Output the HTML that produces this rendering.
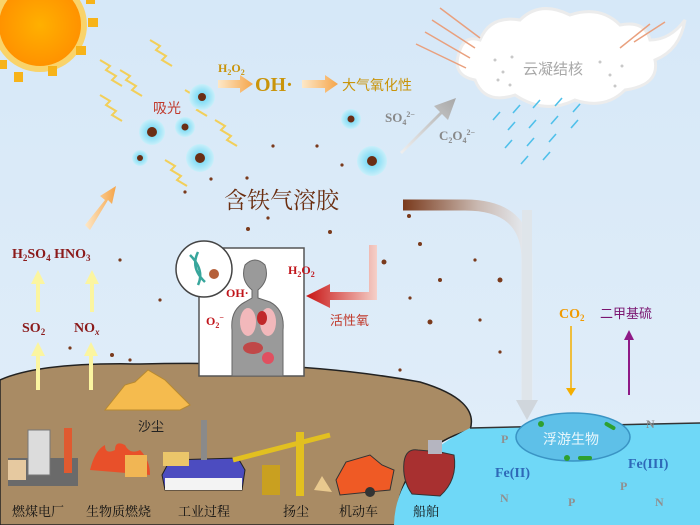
<!DOCTYPE html>
<html><head><meta charset="utf-8"><style>
body{margin:0;width:700px;height:525px;overflow:hidden;background:#dcebf9}
svg{display:block}
text{font-family:"Liberation Serif","Noto Serif CJK SC",serif}
.cn{font-family:"Liberation Sans","Noto Sans CJK SC",sans-serif}
.sf{font-family:"Liberation Serif","Noto Serif CJK SC",serif}
</style></head><body>
<svg width="700" height="525" viewBox="0 0 700 525" xmlns="http://www.w3.org/2000/svg">
<defs>
<linearGradient id="bg" x1="0" y1="0" x2="0" y2="1"><stop offset="0" stop-color="#d6e8f8"/><stop offset="1" stop-color="#e2eef9"/></linearGradient>
<linearGradient id="brn" x1="0" x2="1"><stop offset="0" stop-color="#7a3a1c"/><stop offset="0.6" stop-color="#c9b8b0"/><stop offset="1" stop-color="#e6ecf2"/></linearGradient>
<linearGradient id="red" x1="1" x2="0"><stop offset="0" stop-color="#f5d0c8"/><stop offset="1" stop-color="#c81414"/></linearGradient>
<linearGradient id="orng" x1="0" x2="1"><stop offset="0" stop-color="#fde8c8"/><stop offset="1" stop-color="#f5a54a"/></linearGradient>
<linearGradient id="gry" x1="0" y1="1" x2="1" y2="0"><stop offset="0" stop-color="#f0f0f0"/><stop offset="1" stop-color="#a8a8a8"/></linearGradient>
<radialGradient id="sun"><stop offset="0" stop-color="#ffb000"/><stop offset="1" stop-color="#ff9000"/></radialGradient>
<radialGradient id="dr"><stop offset="0.3" stop-color="#7fdcf5"/><stop offset="1" stop-color="#c9effa"/></radialGradient>
</defs>
<rect width="700" height="525" fill="url(#bg)"/>
<circle cx="40" cy="25" r="44" fill="url(#sun)" stroke="#f9d36a" stroke-width="6"/>
<g fill="#f7b319"><rect x="48" y="66" width="9" height="10"/><rect x="14" y="72" width="9" height="10"/><rect x="76" y="46" width="10" height="9"/><rect x="88" y="18" width="10" height="9"/><rect x="86" y="-5" width="9" height="9"/><rect x="-2" y="60" width="9" height="9"/></g>
<g stroke="#f2cf5a" stroke-width="2" fill="none">
<path d="M100 60 l10 6 -4 4 10 6 -4 4 10 6"/><path d="M150 40 l10 6 -4 4 10 6 -4 4 10 6"/><path d="M100 95 l10 6 -4 4 10 6 -4 4 10 6"/><path d="M165 160 l10 6 -4 4 10 6 -4 4 10 6"/><path d="M215 120 l10 6 -4 4 10 6 -4 4 10 6"/><path d="M185 90 l10 6 -4 4 10 6 -4 4 10 6"/><path d="M120 70 l10 6 -4 4 10 6 -4 4 10 6"/>
</g>
<g>
<circle cx="202" cy="97" r="13" fill="url(#dr)"/><circle cx="202" cy="97" r="4" fill="#6a2e14"/>
<circle cx="185" cy="127" r="10" fill="url(#dr)"/><circle cx="185" cy="127" r="3.5" fill="#6a2e14"/>
<circle cx="152" cy="132" r="13" fill="url(#dr)"/><circle cx="152" cy="132" r="5" fill="#6a2e14"/>
<circle cx="140" cy="158" r="8" fill="url(#dr)"/><circle cx="140" cy="158" r="3" fill="#6a2e14"/>
<circle cx="200" cy="158" r="14" fill="url(#dr)"/><circle cx="200" cy="158" r="5" fill="#6a2e14"/>
<circle cx="351" cy="119" r="10" fill="url(#dr)"/><circle cx="351" cy="119" r="3.5" fill="#6a2e14"/>
<circle cx="372" cy="161" r="15" fill="url(#dr)"/><circle cx="372" cy="161" r="5" fill="#6a2e14"/>
</g>
<g fill="#7a3a1c">
<circle cx="273" cy="146" r="1.6"/><circle cx="317" cy="146" r="1.6"/><circle cx="342" cy="165" r="1.6"/><circle cx="211" cy="179" r="1.6"/><circle cx="247" cy="178" r="1.6"/><circle cx="185" cy="192" r="1.6"/><circle cx="409" cy="216" r="2"/><circle cx="268" cy="218" r="1.6"/><circle cx="330" cy="232" r="2"/><circle cx="248" cy="229" r="2"/><circle cx="420" cy="244" r="2"/><circle cx="384" cy="262" r="2.5"/><circle cx="440" cy="280" r="2"/><circle cx="500" cy="280" r="2.5"/><circle cx="475" cy="260" r="1.6"/><circle cx="430" cy="322" r="2.5"/><circle cx="410" cy="298" r="1.6"/><circle cx="480" cy="320" r="1.6"/><circle cx="400" cy="370" r="1.6"/><circle cx="330" cy="380" r="2"/><circle cx="355" cy="395" r="1.6"/><circle cx="360" cy="420" r="1.6"/><circle cx="380" cy="432" r="1.6"/><circle cx="260" cy="412" r="1.6"/><circle cx="283" cy="420" r="1.6"/><circle cx="70" cy="348" r="1.6"/><circle cx="112" cy="355" r="2"/><circle cx="130" cy="360" r="1.6"/><circle cx="160" cy="300" r="1.6"/><circle cx="120" cy="260" r="1.6"/><circle cx="40" cy="415" r="1.6"/><circle cx="70" cy="415" r="1.6"/><circle cx="108" cy="420" r="2"/><circle cx="120" cy="418" r="1.6"/><circle cx="500" cy="352" r="1.6"/></g>
<path d="M480 40 q10-25 40-20 q20-20 50-5 q30-10 50 10 q25 -5 30 15 q20 0 35-20 q-5 30-30 40 q5 25-30 30 q-20 20-50 10 q-30 15-60 -5 q-30 10-40-15 q-25-5-15-30 q5-15 20-10z" fill="#ffffff" stroke="#ececec" stroke-width="3"/>
<text x="523" y="74" class="cn" font-size="15" fill="#a8a8a8">云凝结核</text>
<g fill="#c8c8c8"><circle cx="495" cy="60" r="1.5"/><circle cx="503" cy="72" r="1.5"/><circle cx="512" cy="57" r="1.5"/><circle cx="510" cy="85" r="1.5"/><circle cx="600" cy="62" r="1.5"/><circle cx="610" cy="75" r="1.5"/><circle cx="622" cy="66" r="1.5"/><circle cx="615" cy="86" r="1.5"/><circle cx="498" cy="80" r="1.5"/></g>
<g stroke="#e9a07e" stroke-width="1.5"><line x1="416" y1="44" x2="466" y2="68"/><line x1="425" y1="32" x2="470" y2="58"/><line x1="432" y1="20" x2="475" y2="48"/><line x1="440" y1="8" x2="480" y2="38"/><line x1="620" y1="48" x2="650" y2="24"/><line x1="634" y1="42" x2="665" y2="22"/></g>
<g stroke="#4fc0ea" stroke-width="1.6"><line x1="520" y1="105" x2="513" y2="113"/><line x1="540" y1="100" x2="533" y2="108"/><line x1="562" y1="98" x2="555" y2="106"/><line x1="580" y1="104" x2="573" y2="112"/><line x1="515" y1="122" x2="508" y2="130"/><line x1="536" y1="120" x2="529" y2="128"/><line x1="558" y1="116" x2="551" y2="124"/><line x1="578" y1="120" x2="571" y2="128"/><line x1="512" y1="140" x2="505" y2="148"/><line x1="534" y1="138" x2="527" y2="146"/><line x1="556" y1="134" x2="549" y2="142"/><line x1="528" y1="156" x2="521" y2="164"/><line x1="550" y1="152" x2="543" y2="160"/><line x1="500" y1="112" x2="493" y2="120"/></g>
<path d="M0 380 Q40 362 140 364 Q300 360 420 382 Q480 400 470 430 Q400 450 395 525 L0 525Z" fill="#a98b64" stroke="#222" stroke-width="1.5"/>
<path d="M470 428 L700 423 L700 525 L394 525 Q395 465 470 428Z" fill="#6fd8f7"/>
<path d="M470 428 L700 423" stroke="#333" stroke-width="1.5"/>
<path d="M403 205 L465 205 Q527 205 527 260 L527 400" stroke="url(#brn)" stroke-width="11" fill="none"/>
<path d="M522 210 L532 210 L532 400 L522 400Z" fill="#dfe5ea"/>
<path d="M516 400 L538 400 L527 420Z" fill="#d0d6dc"/>
<path d="M400 152 L440 112 L434 106 L456 98 L448 120 L442 114 L402 154Z" fill="url(#gry)"/>
<path d="M218 80 L240 80 L240 75 L253 84 L240 93 L240 88 L218 88Z" fill="url(#orng)"/>
<path d="M302 80 L325 80 L325 75 L338 84 L325 93 L325 88 L302 88Z" fill="url(#orng)"/>
<path d="M85 225 L105 200 L100 196 L116 186 L112 204 L108 200 L90 230Z" fill="url(#orng)"/>
<text x="218" y="72" font-size="12" font-weight="bold" fill="#c9940a">H<tspan font-size="8" dy="3">2</tspan><tspan dy="-3">O</tspan><tspan font-size="8" dy="3">2</tspan></text>
<text x="255" y="91" font-size="20" font-weight="bold" fill="#c9940a">OH·</text>
<text x="342" y="90" class="cn" font-size="14" fill="#c9940a">大气氧化性</text>
<text x="385" y="122" font-size="13" font-weight="bold" fill="#888">SO<tspan font-size="8" dy="3">4</tspan><tspan font-size="8" dy="-8">2−</tspan></text>
<text x="439" y="140" font-size="13" font-weight="bold" fill="#888">C<tspan font-size="8" dy="3">2</tspan><tspan dy="-3">O</tspan><tspan font-size="8" dy="3">4</tspan><tspan font-size="8" dy="-8">2−</tspan></text>
<text x="153" y="113" class="cn" font-size="14" fill="#c0392b">吸光</text>
<text x="224" y="208" class="sf" font-size="23" fill="#6b2e10">含铁气溶胶</text>
<text x="12" y="258" font-size="14" font-weight="bold" fill="#8b1a1a">H<tspan font-size="9" dy="3">2</tspan><tspan dy="-3">SO</tspan><tspan font-size="9" dy="3">4</tspan><tspan dy="-3"> HNO</tspan><tspan font-size="9" dy="3">3</tspan></text>
<text x="22" y="332" font-size="14" font-weight="bold" fill="#8b1a1a">SO<tspan font-size="9" dy="3">2</tspan></text>
<text x="74" y="332" font-size="14" font-weight="bold" fill="#8b1a1a">NO<tspan font-size="9" dy="3" font-style="italic">x</tspan></text>
<g fill="#fbf5a0"><path d="M36 312 L36 284 L31 284 L38 270 L45 284 L40 284 L40 312Z"/><path d="M90 312 L90 284 L85 284 L92 270 L99 284 L94 284 L94 312Z"/><path d="M36 390 L36 356 L31 356 L38 342 L45 356 L40 356 L40 390Z"/><path d="M89 390 L89 356 L84 356 L91 342 L98 356 L93 356 L93 390Z"/></g>
<rect x="199" y="248" width="105" height="128" fill="#fff" stroke="#555" stroke-width="1.5"/>
<path d="M232 376 L232 330 Q230 310 245 302 L252 298 L252 290 Q240 280 245 265 Q255 255 265 265 Q270 280 258 290 L258 298 L270 302 Q285 310 283 330 L283 376Z" fill="#9a9a9a" stroke="#666"/>
<ellipse cx="248" cy="322" rx="8" ry="14" fill="#f2b8bb"/><ellipse cx="268" cy="322" rx="8" ry="14" fill="#f2b8bb"/>
<ellipse cx="262" cy="318" rx="5" ry="7" fill="#c0282a"/>
<ellipse cx="253" cy="348" rx="10" ry="6" fill="#c04848"/><ellipse cx="268" cy="358" rx="6" ry="6" fill="#e05060"/>
<circle cx="204" cy="269" r="28" fill="#fff" stroke="#444" stroke-width="1.5"/>
<path d="M190 255 Q205 270 198 285 M198 252 Q190 268 205 282" stroke="#38a69c" stroke-width="2.5" fill="none"/>
<circle cx="214" cy="274" r="5" fill="#b5603a"/>
<text x="288" y="274" font-size="12" font-weight="bold" fill="#c0141a">H<tspan font-size="8" dy="3">2</tspan><tspan dy="-3">O</tspan><tspan font-size="8" dy="3">2</tspan></text>
<text x="226" y="297" font-size="12" font-weight="bold" fill="#c0141a">OH·</text>
<text x="206" y="325" font-size="12" font-weight="bold" fill="#c0141a">O<tspan font-size="8" dy="3">2</tspan><tspan font-size="8" dy="-8">−</tspan></text>
<path d="M377 245 L377 300 L330 300 L330 308 L306 296 L330 284 L330 292 L369 292 L369 245Z" fill="url(#red)"/>
<text x="330" y="325" class="cn" font-size="13" fill="#c0392b">活性氧</text>
<text x="559" y="318" font-size="14" font-weight="bold" fill="#f09a00">CO<tspan font-size="9" dy="3">2</tspan></text>
<text x="600" y="318" class="cn" font-size="13" fill="#7a1570">二甲基硫</text>
<line x1="571" y1="326" x2="571" y2="390" stroke="#f4ae00" stroke-width="1.5"/><path d="M566 388 L576 388 L571 396Z" fill="#f4ae00"/>
<line x1="629" y1="338" x2="629" y2="395" stroke="#8e1a86" stroke-width="2"/><path d="M624 340 L634 340 L629 330Z" fill="#8e1a86"/>
<ellipse cx="573" cy="437" rx="57" ry="24" fill="#5ec0e8" stroke="#3a94c4" stroke-width="1.5"/>
<text x="543" y="444" class="cn" font-size="14" fill="#e8f6fb">浮游生物</text>
<g fill="#2ea030"><circle cx="541" cy="424" r="3"/><circle cx="567" cy="458" r="3"/><rect x="578" y="456" width="14" height="4" rx="2"/><rect x="604" y="424" width="12" height="4" rx="2" transform="rotate(30 610 426)"/></g>
<g font-weight="bold" font-size="12" fill="#909090"><text x="501" y="443">P</text><text x="646" y="428" fill="#8a8a8a">N</text><text x="620" y="490">P</text><text x="500" y="502">N</text><text x="568" y="506">P</text><text x="655" y="506">N</text></g>
<text x="495" y="477" font-size="14" font-weight="bold" fill="#2e69b8">Fe(II)</text>
<text x="628" y="468" font-size="14" font-weight="bold" fill="#2e69b8">Fe(III)</text>
<path d="M105 410 L125 385 L135 382 L148 370 L165 380 L190 405 L180 410Z" fill="#f5bb4e" stroke="#b88a30"/>
<text x="138" y="431" class="cn" font-size="13" fill="#222">沙尘</text>
<rect x="8" y="458" width="70" height="28" fill="#6a6a6a"/><rect x="28" y="430" width="22" height="45" fill="#dcdcdc" stroke="#777"/>
<rect x="64" y="428" width="8" height="45" fill="#e05a30"/><rect x="8" y="460" width="18" height="20" fill="#e6c9a0"/>
<path d="M90 470 Q95 450 105 445 Q105 455 115 450 Q115 440 125 445 Q130 455 140 450 Q150 460 150 475Z" fill="#e8502a"/>
<rect x="125" y="455" width="22" height="22" fill="#f1b654"/>
<path d="M162 475 L170 460 L238 458 L245 470 L242 490 L165 490Z" fill="#4c4cc0" stroke="#222"/>
<rect x="165" y="478" width="77" height="12" fill="#f3f3f3"/>
<rect x="201" y="420" width="6" height="40" fill="#8a8a8a"/><rect x="163" y="452" width="26" height="14" fill="#ebc66a"/>
<line x1="233" y1="460" x2="330" y2="435" stroke="#e2c020" stroke-width="5"/><rect x="296" y="432" width="8" height="64" fill="#e2c020"/>
<rect x="262" y="465" width="18" height="30" fill="#c9a020"/>
<path d="M314 490 L322 476 L332 492Z" fill="#e9c98e"/>
<path d="M336 480 L346 462 L370 455 L382 465 L394 470 L390 490 L340 495Z" fill="#ef5a25" stroke="#333"/>
<circle cx="370" cy="492" r="5" fill="#333"/>
<path d="M404 462 Q406 448 418 450 L440 452 L454 455 Q458 480 440 496 L412 494 Q402 480 404 462Z" fill="#a83030" stroke="#333"/>
<rect x="428" y="440" width="14" height="14" fill="#b5b5c0"/>
<g class="cn" font-size="13" fill="#111">
<text x="12" y="516">燃煤电厂</text><text x="86" y="516">生物质燃烧</text><text x="178" y="516">工业过程</text><text x="283" y="516">扬尘</text><text x="339" y="516">机动车</text><text x="413" y="516">船舶</text>
</g>
</svg>
</body></html>
